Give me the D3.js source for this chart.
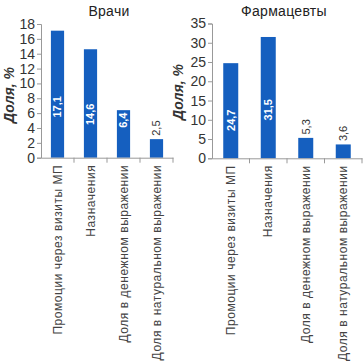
<!DOCTYPE html>
<html><head><meta charset="utf-8">
<script src="https://cdn.jsdelivr.net/npm/d3@7"></script>
<style>body{margin:0;background:#fff}svg{display:block}</style>
</head><body>
<script>
const categories = ["Промоции через визиты МП", "Назначения", "Доля в денежном выражении", "Доля в натуральном выражении"];
const doctorsValues = [17.1, 14.6, 6.4, 2.5];
const pharmacistsValues = [24.7, 31.5, 5.3, 3.6];
const doctorsTicks = [0, 2, 4, 6, 8, 10, 12, 14, 16, 18];
const pharmacistsTicks = [0, 5, 10, 15, 20, 25, 30, 35];
const titles = ["Врачи", "Фармацевты"];
const yLabel = "Доля, %";

const W = 364, H = 364;
const svg = d3.select("body").append("svg").attr("width", W).attr("height", H);
const NARROW = "'Liberation Sans Narrow', 'Liberation Sans', Arial, sans-serif";
const FONT = "'Liberation Sans', Arial, sans-serif";
const BLUE = "#155fbf";

const panels = [
  {title: titles[0], values: doctorsValues, ticks: doctorsTicks, max: 18, x0: 41, x1: 173, y0: 157.7, y1: 24, titleX: 109, yLabX: 9, yLabY: 95},
  {title: titles[1], values: pharmacistsValues, ticks: pharmacistsTicks, max: 35, x0: 212, x1: 362, y0: 158.3, y1: 23.5, titleX: 284, yLabX: 178, yLabY: 92}
];

panels.forEach(p => {
  const g = svg.append("g");
  const x = d3.scaleBand().domain(categories).range([p.x0, p.x1]).paddingInner(0.6).paddingOuter(0.3);
  const y = d3.scaleLinear().domain([0, p.max]).range([p.y0, p.y1]);

  g.append("text").attr("x", p.titleX).attr("y", 16).attr("text-anchor", "middle")
    .attr("font-family", FONT).attr("font-size", 14).attr("letter-spacing", 0.3).attr("fill", "#222").text(p.title);

  g.append("text").attr("transform", `translate(${p.yLabX + 5},${p.yLabY}) rotate(-90)`)
    .attr("text-anchor", "middle").attr("font-family", NARROW).attr("font-size", 14)
    .attr("font-weight", "bold").attr("font-style", "italic").attr("fill", "#333").text(yLabel);

  g.selectAll("rect.bar").data(p.values).enter().append("rect")
    .attr("x", (d, i) => x(categories[i]))
    .attr("width", x.bandwidth())
    .attr("y", d => y(d))
    .attr("height", d => p.y0 - y(d))
    .attr("fill", BLUE);

  const ya = d3.axisLeft(y).tickValues(p.ticks).tickSize(4).tickPadding(2).tickFormat(d3.format("d"));
  const yg = g.append("g").attr("transform", `translate(${p.x0},0)`).call(ya);
  yg.select(".domain").attr("stroke", "#999");
  yg.selectAll(".tick line").attr("stroke", "#999");
  yg.selectAll(".tick text").attr("font-family", NARROW).attr("font-size", 14).attr("fill", "#333");

  const xa = d3.axisBottom(x).tickSize(0).tickFormat("");
  const xg = g.append("g").attr("transform", `translate(0,${p.y0})`).call(xa);
  xg.select(".domain").attr("stroke", "#999");
  const bounds = categories.map(c => x(c) - x.step() * x.paddingInner() / 2 + x.step());
  g.selectAll("line.bt").data(bounds).enter().append("line")
    .attr("x1", d => d).attr("x2", d => d).attr("y1", p.y0).attr("y2", p.y0 + 5)
    .attr("stroke", "#999");

  g.selectAll("text.cat").data(categories).enter().append("text")
    .attr("transform", d => `translate(${x(d) + x.bandwidth() / 2},${p.y0 + 7}) rotate(-90)`)
    .attr("text-anchor", "end").attr("dy", "0.35em")
    .attr("font-family", FONT).attr("font-size", 12).attr("letter-spacing", 0.55)
    .attr("fill", "#444").text(d => d);

  const fmt = v => String(v.toFixed(1)).replace(".", ",");
  g.selectAll("text.val").data(p.values).enter().append("text")
    .attr("transform", (d, i) => {
      const cx = x(categories[i]) + x.bandwidth() / 2;
      const h = p.y0 - y(d);
      let cy;
      if (h > 60) cy = y(d * 0.4);
      else if (h > 40) cy = y(d) + 10;
      else cy = y(d) - 11;
      return `translate(${cx},${cy}) rotate(-90)`;
    })
    .attr("text-anchor", "middle").attr("dy", "0.35em")
    .attr("font-family", NARROW).attr("font-size", 11)
    .attr("font-weight", (d) => (p.y0 - y(d)) > 40 ? "bold" : "normal")
    .attr("fill", d => (p.y0 - y(d)) > 40 ? "#fff" : "#333")
    .text(d => fmt(d));
});
</script>
</body></html>
